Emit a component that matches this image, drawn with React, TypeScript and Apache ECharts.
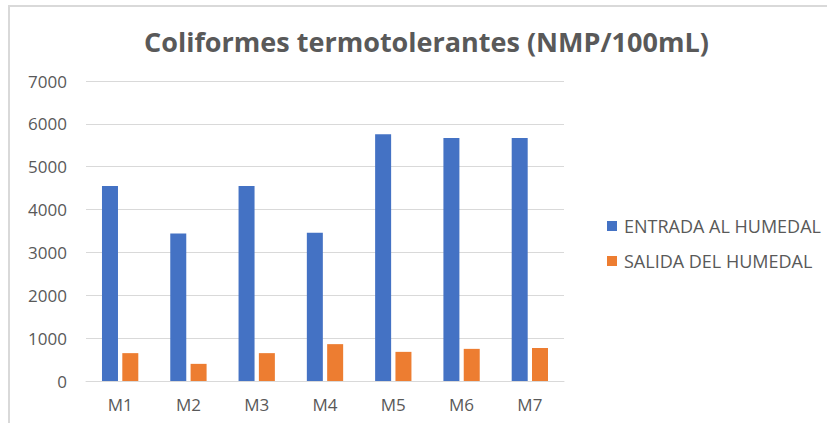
import React, { useEffect, useRef } from "react";
import * as echarts from "echarts";

const categories = ["M1", "M2", "M3", "M4", "M5", "M6", "M7"];
const entrada = [4550, 3440, 4550, 3460, 5760, 5670, 5670];
const salida = [650, 400, 650, 860, 680, 750, 770];
const seriesNames = ["ENTRADA AL HUMEDAL", "SALIDA DEL HUMEDAL"];
const titleText = "Coliformes termotolerantes (NMP/100mL)";

export default function App() {
  const ref = useRef<HTMLDivElement>(null);
  useEffect(() => {
    document.body.style.margin = "0";
    const chart = echarts.init(ref.current!, null, { renderer: "svg" });
    const font = "'Open Sans', sans-serif";
    chart.setOption({
      animation: false,
      backgroundColor: "#ffffff",
      textStyle: { fontFamily: font },
      graphic: [
        {
          type: "rect",
          shape: { x: 9, y: 6, width: 840, height: 440 },
          style: { fill: "none", stroke: "#d9d9d9", lineWidth: 2 },
          silent: true,
        },
      ],
      title: {
        text: titleText,
        left: 139,
        top: 23,
        textStyle: {
          fontFamily: font,
          fontSize: 27,
          fontWeight: "bold",
          color: "#595959",
        },
      },
      legend: {
        orient: "vertical",
        left: 602,
        top: 212,
        itemWidth: 10,
        itemHeight: 10,
        itemGap: 17,
        icon: "rect",
        data: seriesNames,
        textStyle: {
          fontFamily: font,
          fontSize: 18,
          color: "#595959",
          lineHeight: 18,
          padding: [0, 0, 0, 2],
        },
      },
      grid: { left: 86, right: 263, top: 81, bottom: 42 },
      xAxis: {
        type: "category",
        data: categories,
        axisLine: { lineStyle: { color: "#d9d9d9", width: 1 } },
        axisTick: { show: false },
        axisLabel: { color: "#595959", fontSize: 17, margin: 15, fontFamily: font },
      },
      yAxis: {
        type: "value",
        min: 0,
        max: 7000,
        interval: 1000,
        axisLine: { show: false },
        axisTick: { show: false },
        splitLine: { lineStyle: { color: "#d9d9d9", width: 1 } },
        axisLabel: {
          color: "#595959",
          fontSize: 17,
          margin: 19,
          fontFamily: font,
          formatter: (v: number) => String(v),
        },
      },
      series: [
        {
          name: seriesNames[0],
          type: "bar",
          data: entrada,
          barWidth: 16,
          barGap: "27%",
          itemStyle: { color: "#4472C4" },
        },
        {
          name: seriesNames[1],
          type: "bar",
          data: salida,
          barWidth: 16,
          itemStyle: { color: "#ED7D31" },
        },
      ],
    });
    return () => chart.dispose();
  }, []);
  return <div ref={ref} style={{ width: 827, height: 423 }} />;
}
